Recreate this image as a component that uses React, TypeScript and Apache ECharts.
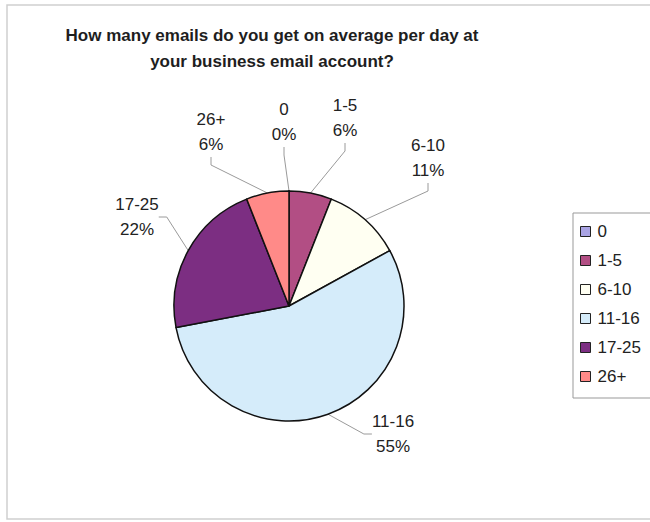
import React, { useEffect, useRef } from "react";
import * as echarts from "echarts";

const categories = ["0", "1-5", "6-10", "11-16", "17-25", "26+"];
const values = [0, 6, 11, 55, 22, 6];
const sliceColors = ["#A9A3E3", "#B24E84", "#FFFFF2", "#D5ECFA", "#7C2E82", "#FF8A88"];
const titleLines = [
  "How many emails do you get on average per day at",
  "your business email account?",
];
// label anchor positions (layout only)
const labelPos: [number, number][] = [
  [284, 122],
  [345, 118],
  [428, 158],
  [393, 434],
  [137, 217],
  [211, 132],
];

const FONT = '"Liberation Sans", Arial, sans-serif';

export default function App() {
  const ref = useRef<HTMLDivElement>(null);
  useEffect(() => {
    if (!ref.current) return;
    const chart = echarts.init(ref.current, undefined, { renderer: "svg" });
    chart.setOption({
      animation: false,
      backgroundColor: "#ffffff",
      graphic: [
        {
          type: "rect",
          shape: { x: 7, y: 5, width: 700, height: 514 },
          style: { fill: "none", stroke: "#cfcfcf", lineWidth: 1.5 },
          z: 0,
        },
        {
          type: "text",
          x: 272,
          y: 35,
          style: {
            text: titleLines[0],
            font: `bold 17px ${FONT}`,
            fill: "#1e1e1e",
            textAlign: "center",
            textVerticalAlign: "middle",
          },
        },
        {
          type: "text",
          x: 272,
          y: 61,
          style: {
            text: titleLines[1],
            font: `bold 17px ${FONT}`,
            fill: "#1e1e1e",
            textAlign: "center",
            textVerticalAlign: "middle",
          },
        },
      ],
      legend: {
        orient: "vertical",
        left: 573,
        top: 213,
        padding: [10, 30, 13, 7],
        itemWidth: 10,
        itemHeight: 10,
        itemGap: 12,
        icon: "rect",
        borderColor: "#999999",
        borderWidth: 1,
        backgroundColor: "#ffffff",
        itemStyle: { borderColor: "#222222", borderWidth: 1 },
        textStyle: { fontFamily: FONT, fontSize: 17, color: "#222222", lineHeight: 17, padding: [0, 0, 0, 2] },
        data: categories,
        selectedMode: false,
      },
      series: [
        {
          type: "pie",
          center: [289, 306],
          radius: 115,
          startAngle: 90,
          clockwise: true,
          avoidLabelOverlap: false,
          emphasis: { disabled: true },
          itemStyle: { borderColor: "#111111", borderWidth: 1.5 },
          label: {
            show: true,
            formatter: "{b}\n{d}%",
            fontFamily: FONT,
            fontSize: 17,
            lineHeight: 25,
            color: "#222222",
            align: "center",
          },
          labelLine: {
            show: true,
            length: 10,
            length2: 8,
            lineStyle: { color: "#9a9a9a", width: 1 },
          },
          labelLayout: (params: any) => {
            const p = labelPos[params.dataIndex];
            return { x: p[0], y: p[1], align: "center", verticalAlign: "middle" };
          },
          data: categories.map((c, i) => ({
            name: c,
            value: values[i],
            itemStyle: { color: sliceColors[i] },
          })),
        },
      ],
    });
    return () => chart.dispose();
  }, []);
  return (
    <div
      ref={ref}
      style={{ position: "fixed", left: 0, top: 0, width: 650, height: 522 }}
    />
  );
}
